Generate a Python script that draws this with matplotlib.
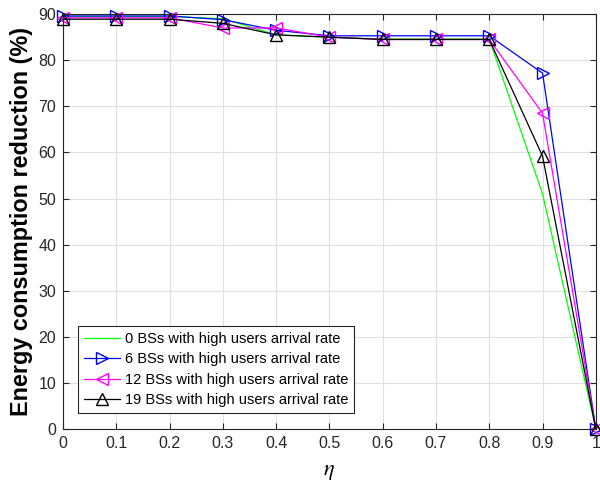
import numpy as np
import matplotlib.pyplot as plt

plt.rcParams['font.family'] = ['Liberation Sans', 'DejaVu Sans']
plt.rcParams['mathtext.fontset'] = 'stix'

eta = [0, 0.1, 0.2, 0.3, 0.4, 0.5, 0.6, 0.7, 0.8, 0.9, 1.0]
bs0 = [89.5, 89.5, 89.5, 89.0, 85.5, 85.0, 84.6, 84.6, 84.6, 51.0, 0.0]
bs6 = [89.6, 89.6, 89.6, 88.8, 86.5, 85.3, 85.3, 85.3, 85.3, 77.2, 0.0]
bs12 = [89.2, 89.2, 89.2, 87.0, 87.0, 85.0, 84.5, 84.5, 84.5, 68.5, 0.0]
bs19 = [88.9, 88.9, 88.9, 88.0, 85.5, 85.0, 84.5, 84.5, 84.5, 59.2, 0.0]

labels = ["0 BSs with high users arrival rate",
          "6 BSs with high users arrival rate",
          "12 BSs with high users arrival rate",
          "19 BSs with high users arrival rate"]

fig = plt.figure(figsize=(6, 4.87), dpi=100)
ax = fig.add_axes([0.105, 0.119, 0.888, 0.852])

ax.plot(eta, bs0, color='#00ff00', lw=0.9, label=labels[0], clip_on=False)
ax.plot(eta, bs6, color='#0000ff', lw=0.9, marker='>', ms=8, mfc='none', label=labels[1], clip_on=False)
ax.plot(eta, bs12, color='#ff00ff', lw=0.9, marker='<', ms=8, mfc='none', label=labels[2], clip_on=False)
ax.plot(eta, bs19, color='black', lw=0.9, marker='^', ms=8, mfc='none', label=labels[3], clip_on=False)

ax.set_xlim(0, 1)
ax.set_ylim(0, 90)
ax.set_xticks(np.arange(0, 1.01, 0.1))
ax.set_xticklabels(['0', '0.1', '0.2', '0.3', '0.4', '0.5', '0.6', '0.7', '0.8', '0.9', '1'])
ax.set_yticks(np.arange(0, 91, 10))
ax.tick_params(direction='in', top=True, right=True, labelsize=11.5, length=4,
               color='#262626', labelcolor='#262626', pad=5)
ax.grid(True, color='#e0e0e0', lw=0.8)
ax.set_axisbelow(True)
for s in ax.spines.values():
    s.set_color('#262626')
    s.set_linewidth(0.8)

ax.set_xlabel(r'$\eta$', fontsize=16, labelpad=7)
ax.set_ylabel('Energy consumption reduction (%)', fontsize=16.8, fontweight='bold', labelpad=4)

leg = ax.legend(loc='lower left', bbox_to_anchor=(0.028, 0.038), fontsize=10.5,
                fancybox=False, edgecolor='#262626', framealpha=1,
                handlelength=2.5, handletextpad=0.3, borderpad=0.4,
                labelspacing=0.45, borderaxespad=0)
leg.get_frame().set_linewidth(0.8)

fig.savefig('out.png', dpi=100)
